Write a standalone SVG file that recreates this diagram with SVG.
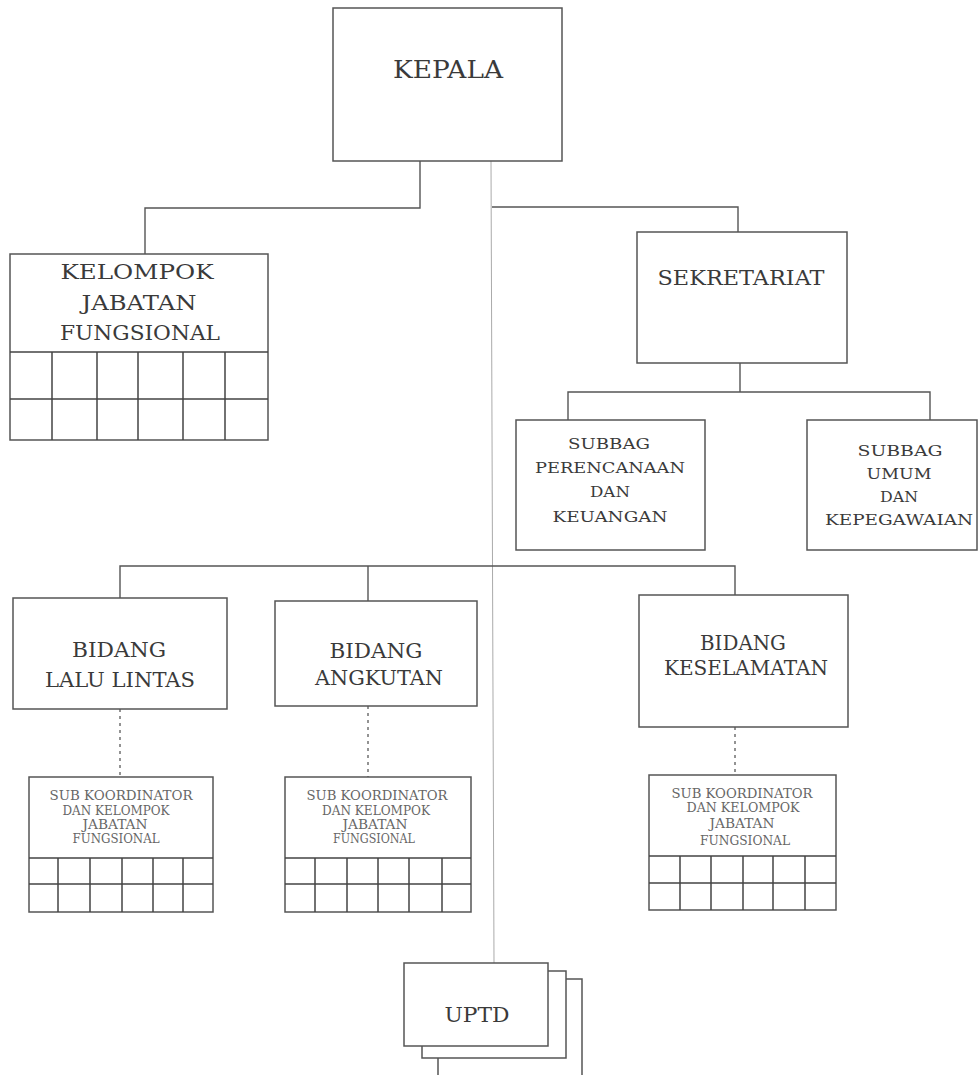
<svg xmlns="http://www.w3.org/2000/svg" width="980" height="1075" viewBox="0 0 980 1075">
<style>
.box{fill:#fff;stroke:#555;stroke-width:1.5}
.grid{fill:none;stroke:#444;stroke-width:1.5}
.con{fill:none;stroke:#555;stroke-width:1.4}
.axis{fill:none;stroke:#aaa;stroke-width:1}
.dot{fill:none;stroke:#666;stroke-width:1.4;stroke-dasharray:3 4}
text{font-family:"DejaVu Serif","Liberation Serif",serif;fill:#3a3a3a;text-anchor:middle}
.t25{font-size:25px}
.t21{font-size:21px}
.t20{font-size:20px}
.t19{font-size:20px}
.t15{font-size:15.5px}
.t11{font-size:12px;fill:#666}
</style>
<rect width="980" height="1075" fill="#fff"/>
<g id="connectors">
<line class="axis" x1="491" y1="161" x2="494" y2="963"/>
<polyline class="con" points="420,161 420,208 145,208 145,254"/>
<polyline class="con" points="492,207 738,207 738,232"/>
<polyline class="con" points="740,363 740,392"/>
<polyline class="con" points="568,420 568,392 930,392 930,420"/>
<polyline class="con" points="120,598 120,566 735,566 735,595"/>
<line class="con" x1="368" y1="566" x2="368" y2="601"/>
<line class="dot" x1="120" y1="709" x2="120" y2="777"/>
<line class="dot" x1="368" y1="706" x2="368" y2="777"/>
<line class="dot" x1="735" y1="727" x2="735" y2="775"/>
</g>
<g id="kepala">
<rect class="box" x="333" y="8" width="229" height="153"/>
<text class="t25" x="448" y="78" textLength="110" lengthAdjust="spacingAndGlyphs">KEPALA</text>
</g>
<g id="kelompok-jabatan-fungsional">
<rect class="box" x="10" y="254" width="258" height="186"/>
<text class="t19" x="137" y="279" textLength="153" lengthAdjust="spacingAndGlyphs">KELOMPOK</text>
<text class="t19" x="139" y="310" textLength="115" lengthAdjust="spacingAndGlyphs">JABATAN</text>
<text class="t19" x="140" y="340" textLength="160" lengthAdjust="spacingAndGlyphs">FUNGSIONAL</text>
<path class="grid" d="M10 352H268M10 399H268M52 352V440M97 352V440M138 352V440M183 352V440M225 352V440"/>
</g>
<g id="sekretariat">
<rect class="box" x="637" y="232" width="210" height="131"/>
<text class="t21" x="741" y="285" textLength="167" lengthAdjust="spacingAndGlyphs">SEKRETARIAT</text>
</g>
<g id="subbag-perencanaan">
<rect class="box" x="516" y="420" width="189" height="130"/>
<text class="t15" x="609" y="449" textLength="82" lengthAdjust="spacingAndGlyphs">SUBBAG</text>
<text class="t15" x="610" y="473" textLength="150" lengthAdjust="spacingAndGlyphs">PERENCANAAN</text>
<text class="t15" x="610" y="497" textLength="40" lengthAdjust="spacingAndGlyphs">DAN</text>
<text class="t15" x="610" y="522" textLength="115" lengthAdjust="spacingAndGlyphs">KEUANGAN</text>
</g>
<g id="subbag-umum">
<rect class="box" x="807" y="420" width="170" height="130"/>
<text class="t15" x="900" y="456" textLength="85" lengthAdjust="spacingAndGlyphs">SUBBAG</text>
<text class="t15" x="899" y="479" textLength="65" lengthAdjust="spacingAndGlyphs">UMUM</text>
<text class="t15" x="899" y="502" textLength="38" lengthAdjust="spacingAndGlyphs">DAN</text>
<text class="t15" x="899" y="525" textLength="148" lengthAdjust="spacingAndGlyphs">KEPEGAWAIAN</text>
</g>
<g id="bidang-lalu-lintas">
<rect class="box" x="13" y="598" width="214" height="111"/>
<text class="t20" x="119" y="657" textLength="94" lengthAdjust="spacingAndGlyphs">BIDANG</text>
<text class="t20" x="120" y="687" textLength="150" lengthAdjust="spacingAndGlyphs">LALU LINTAS</text>
</g>
<g id="bidang-angkutan">
<rect class="box" x="275" y="601" width="202" height="105"/>
<text class="t20" x="376" y="658" textLength="93" lengthAdjust="spacingAndGlyphs">BIDANG</text>
<text class="t20" x="379" y="685" textLength="128" lengthAdjust="spacingAndGlyphs">ANGKUTAN</text>
</g>
<g id="bidang-keselamatan">
<rect class="box" x="639" y="595" width="209" height="132"/>
<text class="t20" x="743" y="650" textLength="86" lengthAdjust="spacingAndGlyphs">BIDANG</text>
<text class="t20" x="746" y="675" textLength="164" lengthAdjust="spacingAndGlyphs">KESELAMATAN</text>
</g>
<g id="subkoor-lalu-lintas">
<rect class="box" x="29" y="777" width="184" height="135"/>
<text class="t11" x="121" y="800" textLength="143" lengthAdjust="spacingAndGlyphs">SUB KOORDINATOR</text>
<text class="t11" x="116" y="815" textLength="107" lengthAdjust="spacingAndGlyphs">DAN KELOMPOK</text>
<text class="t11" x="115" y="829" textLength="65" lengthAdjust="spacingAndGlyphs">JABATAN</text>
<text class="t11" x="116" y="843" textLength="87" lengthAdjust="spacingAndGlyphs">FUNGSIONAL</text>
<path class="grid" d="M29 858H213M29 884H213M58 858V912M90 858V912M122 858V912M153 858V912M183 858V912"/>
</g>
<g id="subkoor-angkutan">
<rect class="box" x="285" y="777" width="186" height="135"/>
<text class="t11" x="377" y="800" textLength="141" lengthAdjust="spacingAndGlyphs">SUB KOORDINATOR</text>
<text class="t11" x="376" y="815" textLength="108" lengthAdjust="spacingAndGlyphs">DAN KELOMPOK</text>
<text class="t11" x="375" y="829" textLength="65" lengthAdjust="spacingAndGlyphs">JABATAN</text>
<text class="t11" x="374" y="843" textLength="82" lengthAdjust="spacingAndGlyphs">FUNGSIONAL</text>
<path class="grid" d="M285 858H471M285 884H471M315 858V912M347 858V912M378 858V912M409 858V912M442 858V912"/>
</g>
<g id="subkoor-keselamatan">
<rect class="box" x="649" y="775" width="187" height="135"/>
<text class="t11" x="742" y="798" textLength="141" lengthAdjust="spacingAndGlyphs">SUB KOORDINATOR</text>
<text class="t11" x="743" y="812" textLength="113" lengthAdjust="spacingAndGlyphs">DAN KELOMPOK</text>
<text class="t11" x="742" y="828" textLength="65" lengthAdjust="spacingAndGlyphs">JABATAN</text>
<text class="t11" x="745" y="845" textLength="90" lengthAdjust="spacingAndGlyphs">FUNGSIONAL</text>
<path class="grid" d="M649 856H836M649 883H836M680 856V910M711 856V910M743 856V910M773 856V910M805 856V910"/>
</g>
<g id="uptd">
<rect class="box" x="438" y="979" width="144" height="110"/>
<rect class="box" x="422" y="971" width="144" height="87"/>
<rect class="box" x="404" y="963" width="144" height="83"/>
<text class="t21" x="477" y="1022" textLength="65" lengthAdjust="spacingAndGlyphs">UPTD</text>
</g>
</svg>
